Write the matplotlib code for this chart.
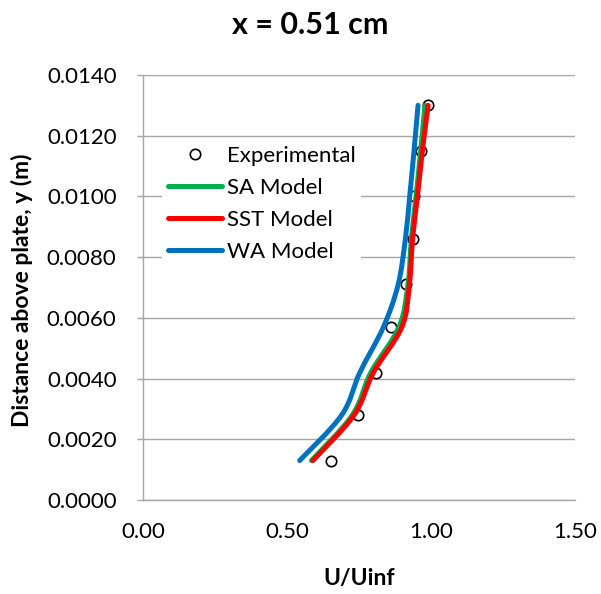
import numpy as np
import matplotlib
matplotlib.use('Agg')
import matplotlib.pyplot as plt
from matplotlib.path import Path
from matplotlib.patches import PathPatch
from matplotlib.lines import Line2D
from matplotlib.ticker import FormatStrFormatter

plt.rcParams['font.family'] = ['Lato', 'DejaVu Sans']

# velocity profile, y above plate (m) against U/Uinf
y_levels = [0.0013, 0.0028, 0.0042, 0.0057, 0.0071, 0.0086, 0.0100, 0.0115, 0.0130]
u_exp = [0.653, 0.745, 0.810, 0.862, 0.914, 0.936, 0.941, 0.967, 0.988]
u_sa = [0.585, 0.727, 0.791, 0.889, 0.920, 0.932, 0.948, 0.964, 0.979]
u_sst = [0.590, 0.733, 0.800, 0.899, 0.925, 0.936, 0.953, 0.970, 0.990]
u_wa = [0.544, 0.690, 0.753, 0.835, 0.886, 0.911, 0.926, 0.941, 0.955]

x_ticks = [0.0, 0.5, 1.0, 1.5]
y_ticks = [0.0, 0.002, 0.004, 0.006, 0.008, 0.010, 0.012, 0.014]


def smooth_path(xs, ys):
    # cubic bezier through the points (catmull-rom style control points)
    p = np.column_stack([xs, ys])
    ext = np.vstack([p[0], p, p[-1]])
    verts = [p[0]]
    codes = [Path.MOVETO]
    for i in range(1, len(ext) - 2):
        p0, p1, p2, p3 = ext[i - 1], ext[i], ext[i + 1], ext[i + 2]
        c1 = p1 + (p2 - p0) / 6.0
        c2 = p2 - (p3 - p1) / 6.0
        verts += [c1, c2, p2]
        codes += [Path.CURVE4] * 3
    return Path(verts, codes)


fig = plt.figure(figsize=(6.01, 5.94), dpi=100)
ax = fig.add_axes([143/601, 1 - 500/594, 432/601, 425/594])
ax.set_xlim(0, 1.5)
ax.set_ylim(0, 0.014)

grey = '#a6a6a6'
ax.set_yticks(y_ticks)
ax.set_xticks(x_ticks)
ax.yaxis.set_major_formatter(FormatStrFormatter('%.4f'))
ax.xaxis.set_major_formatter(FormatStrFormatter('%.2f'))
ax.grid(axis='y', color=grey, lw=1.0)
ax.set_axisbelow(True)
for s in ['top', 'right']:
    ax.spines[s].set_visible(False)
for s in ['left', 'bottom']:
    ax.spines[s].set_color(grey)
    ax.spines[s].set_linewidth(1.0)
ax.tick_params(axis='y', direction='out', length=4, width=1, color=grey,
               pad=15, labelsize=16)
ax.tick_params(axis='x', length=0, pad=16, labelsize=16)

ax.plot(u_exp, y_levels, 'o', ms=7.5, mfc='white', mec='black', mew=1.2,
        zorder=2, clip_on=False)

colors = {'SA Model': '#00b050', 'SST Model': '#ff0000', 'WA Model': '#0070c0'}
for name, u in [('SA Model', u_sa), ('SST Model', u_sst), ('WA Model', u_wa)]:
    patch = PathPatch(smooth_path(u, y_levels), fc='none', ec=colors[name],
                      lw=3.6, capstyle='round', joinstyle='round', zorder=3)
    ax.add_patch(patch)

handles = [Line2D([], [], ls='none', marker='o', ms=7.5, mfc='white',
                  mec='black', mew=1.2)]
labels = ['Experimental']
for name in ['SA Model', 'SST Model', 'WA Model']:
    handles.append(Line2D([], [], color=colors[name], lw=3.6,
                          solid_capstyle='round'))
    labels.append(name)
leg = ax.legend(handles, labels, loc='upper left',
                bbox_to_anchor=(162/601, 1 - 140/594),
                bbox_transform=fig.transFigure, fontsize=16, frameon=True,
                facecolor='white', edgecolor='none', framealpha=1,
                fancybox=False, borderpad=0.25, borderaxespad=0,
                handlelength=2.45, handletextpad=0.22, labelspacing=0.55)
leg.set_zorder(4)

fig.text(310/601, 1 - 25/594, 'x = 0.51 cm', ha='center', va='center',
         fontsize=22, fontweight='bold')
fig.text(22/601, 1 - 290/594, 'Distance above plate, y (m)', ha='center',
         va='center', rotation=90, fontsize=16.5, fontweight='bold')
fig.text(359/601, 1 - 578/594, 'U/Uinf', ha='center', va='center',
         fontsize=16.5, fontweight='bold')

fig.savefig('out.png', dpi=100)
